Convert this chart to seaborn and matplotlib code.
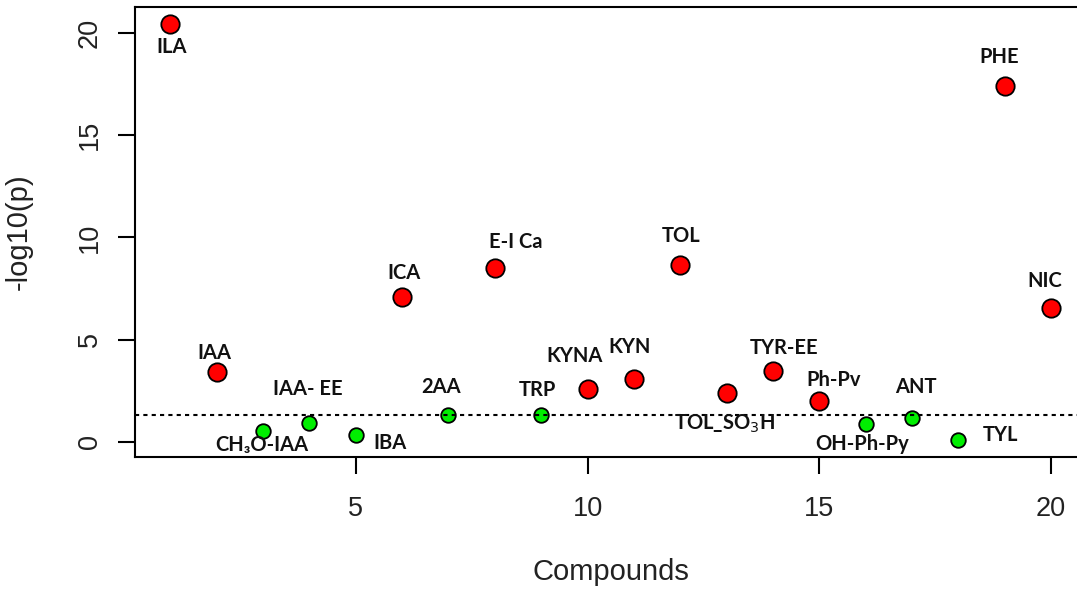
import matplotlib
matplotlib.use("Agg")
import matplotlib.pyplot as plt
import seaborn as sns
import pandas as pd

# Compound index, name, -log10(p) and significance
compound_idx = list(range(1, 21))
compound_names = ["ILA", "IAA", "CH\u2083O-IAA", "IAA- EE", "IBA", "ICA", "2AA", "E-I Ca",
                  "TRP", "KYNA", "KYN", "TOL", "TOL_SO$_3$H", "TYR-EE", "Ph-Pv",
                  "OH-Ph-Py", "ANT", "TYL", "PHE", "NIC"]
neg_log_p = [20.45, 3.43, 0.52, 0.93, 0.33, 7.1, 1.3, 8.52, 1.3, 2.58,
             3.1, 8.65, 2.37, 3.48, 1.99, 0.9, 1.19, 0.08, 17.42, 6.53]
significant = [True, True, False, False, False, True, False, True, False, True,
               True, True, True, True, True, False, False, False, True, True]
threshold = 1.3

# Label offsets in pixels (dx right, dy down) relative to each point
label_offsets = [(1, 23), (-2, -19), (-1, 14), (-2, -34), (34, 8), (2, -24), (-7, -28), (21, -26),
                 (-4, -25), (-13, -33), (-4, -32), (1, -29), (-2, 30), (11, -23), (14, -21),
                 (-4, 20), (4, -31), (42, -5), (-6, -29), (-6, -27)]

df = pd.DataFrame({"idx": compound_idx, "val": neg_log_p,
                   "sig": ["yes" if s else "no" for s in significant]})

sns.set_style("white")
plt.rcParams["font.family"] = ["Liberation Sans", "DejaVu Sans"]

W, H = 1077, 590
fig = plt.figure(figsize=(W / 100, H / 100), dpi=100)
ax = fig.add_axes([135 / W, (H - 457.4) / H, (1086.4 - 135) / W, (457.4 - 6.7) / H])

sig_df = df[df.sig == "yes"]
ns_df = df[df.sig == "no"]
sns.scatterplot(data=sig_df, x="idx", y="val", ax=ax, color="#ff0000", s=175,
                edgecolor="black", linewidth=1.3, zorder=3, legend=False)
sns.scatterplot(data=ns_df, x="idx", y="val", ax=ax, color="#00ee00", s=110,
                edgecolor="black", linewidth=1.3, zorder=3, legend=False)

ax.axhline(threshold, color="black", linestyle=(0, (2.0, 2.0)), linewidth=1.5, zorder=4)

xmin, xmax = min(compound_idx), max(compound_idx)
ymin, ymax = min(neg_log_p), max(neg_log_p)
xpad = (xmax - xmin) * 0.04
ypad = (ymax - ymin) * 0.04
ax.set_xlim(xmin - xpad, xmax + xpad)
ax.set_ylim(ymin - ypad - 0.02, ymax + ypad + 0.02)

for x, y, name, (dx, dy) in zip(compound_idx, neg_log_p, compound_names, label_offsets):
    ax.annotate(name, (x, y), xytext=(dx * 0.72, -dy * 0.72), textcoords="offset points",
                ha="center", va="center", fontsize=14.5, fontweight="bold",
                family=["Lato", "DejaVu Sans"], color="#111111", zorder=5)

ax.set_xticks([5, 10, 15, 20])
ax.set_yticks([0, 5, 10, 15, 20])
ax.tick_params(axis="both", direction="out", length=12, width=1.5, color="black",
               labelsize=19.5, labelcolor="#222222", left=True, bottom=True)
ax.tick_params(axis="x", pad=16)
ax.tick_params(axis="y", pad=11)
for lbl in ax.get_yticklabels():
    lbl.set_rotation(90)
    lbl.set_va("center")

for side in ["left", "bottom", "top", "right"]:
    ax.spines[side].set_visible(True)
    ax.spines[side].set_color("black")
    ax.spines[side].set_linewidth(1.5)

ax.set_xlabel("Compounds", fontsize=21, color="#222222")
ax.set_ylabel("-log10(p)", fontsize=21, color="#222222")
ax.xaxis.label.set_va("center")
ax.yaxis.label.set_va("center")
ax.xaxis.set_label_coords(0.5, -(572 - 457.4) / (457.4 - 6.7))
ax.yaxis.set_label_coords(-(135 - 19) / (1086.4 - 135), 0.5)

fig.savefig("out.png", dpi=100)
